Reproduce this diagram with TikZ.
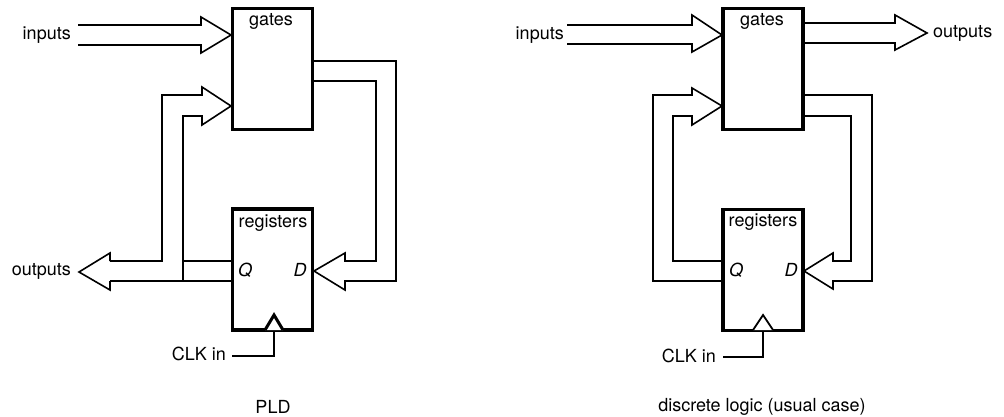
\documentclass[tikz,border=0pt]{standalone}
\usepackage{fontspec}
\setmainfont{TeX Gyre Heros}
\begin{document}
\begin{tikzpicture}[x=1pt,y=-1pt,
  bus/.style={line width=1.6pt,line join=miter},
  blk/.style={draw,line width=3.5pt,minimum width=80pt,minimum height=121pt,inner sep=0pt},
  lbl/.style={font=\fontsize{18}{20}\selectfont,inner sep=0pt},
  pin/.style={font=\fontsize{18}{20}\selectfont\itshape,inner sep=0pt}]
\useasboundingbox (0,0) rectangle (1004,417);
% ---------- left: PLD ----------
\node[blk] (gL) at (272.5,69) {};
\node[blk] (rL) at (272.5,269.5) {};
\node[lbl] (gLt) at (271,21) {gates};
\node[lbl] (rLt) at (273,223) {registers};
\node[pin] (qL) at (245,270) {Q};
\node[pin] (dL) at (300,270) {D};
\node[lbl,anchor=east] (inL) at (71,35) {inputs};
\node[lbl,anchor=east] (outL) at (71,271) {outputs};
\node[lbl,anchor=east] (clkL) at (226,354) {CLK in};
\node[lbl] (pld) at (273,407) {PLD};
% inputs bus
\draw[bus] (78,25) -- (201,25) -- (201,17) -- (231,35) -- (201,53) -- (201,45) -- (78,45);
% feedback from Q to gates and outputs
\draw[bus] (110,261) -- (162,261) -- (162,95) -- (202,95) -- (202,87) -- (231,106) -- (202,125) -- (202,116) -- (183,116) -- (183,281);
\draw[bus] (183,261) -- (231,261);
\draw[bus] (110,281) -- (231,281);
\draw[bus] (110,261) -- (110,253) -- (79,272) -- (110,290) -- (110,281);
% gates to D
\draw[bus] (313,61) -- (396,61) -- (396,281) -- (345,281) -- (345,290) -- (314,271) -- (345,253) -- (345,261) -- (376,261) -- (376,81) -- (313,81);
% clock
\draw[line width=3pt,fill=white,line join=miter] (265,330) -- (274,315) -- (283,330);
\draw[bus] (274,331) -- (274,356) -- (232,356);
% ---------- right: discrete logic ----------
\node[blk] (gR) at (763,69) {};
\node[blk] (rR) at (763,270) {};
\node[lbl] (gRt) at (762,21) {gates};
\node[lbl] (rRt) at (763,222) {registers};
\node[pin] (qR) at (736,270) {Q};
\node[pin] (dR) at (791,270) {D};
\node[lbl,anchor=east] (inR) at (564,35) {inputs};
\node[lbl,anchor=west] (outR) at (933,33) {outputs};
\node[lbl,anchor=east] (clkR) at (716,356) {CLK in};
\node[lbl] (disc) at (762,407) {discrete logic (usual case)};
% inputs bus
\draw[bus] (567,25) -- (692,25) -- (692,15) -- (722,35) -- (692,52) -- (692,44) -- (567,44);
% outputs bus
\draw[bus] (803,23) -- (895,23) -- (895,15) -- (927,33) -- (895,50) -- (895,43) -- (803,43);
% Q to gates
\draw[bus] (723,281) -- (653,281) -- (653,95) -- (692,95) -- (692,88) -- (722,106) -- (692,125) -- (692,116) -- (673,116) -- (673,261) -- (723,261);
% gates to D
\draw[bus] (803,95) -- (872,95) -- (872,281) -- (833,281) -- (833,289) -- (804,271) -- (833,253) -- (833,261) -- (851,261) -- (851,116) -- (803,116);
% clock
\draw[line width=1.8pt,fill=white,line join=miter] (753,330) -- (763,315) -- (773,330);
\draw[bus] (763,331) -- (763,357) -- (723,357);
\end{tikzpicture}
\end{document}
